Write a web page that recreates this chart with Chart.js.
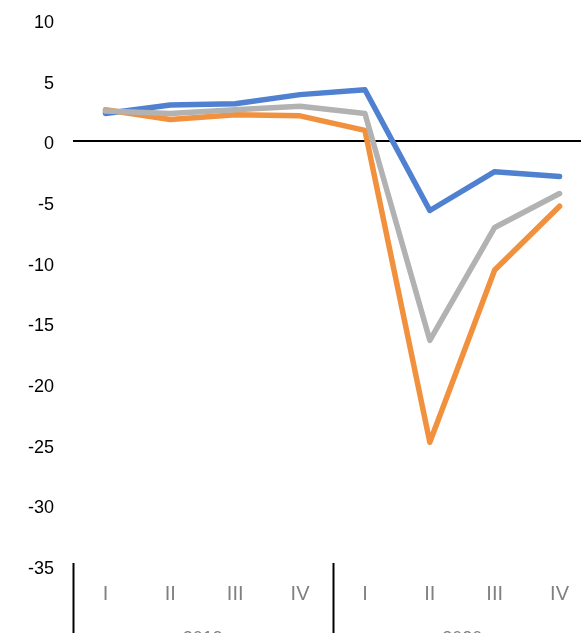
<!DOCTYPE html>
<html lang="en">
<head>
<meta charset="UTF-8">
<title>Quarterly change</title>
<script src="https://cdn.jsdelivr.net/npm/chart.js@4/dist/chart.umd.min.js"></script>
<style>
  html, body { margin: 0; padding: 0; background: #fff; overflow: hidden; }
  #wrap { width: 600px; height: 680px; }
</style>
</head>
<body>
<div id="wrap"><canvas id="chart" width="600" height="680"></canvas></div>
<script>
// ── Data ─────────────────────────────────────────────────────────────────────
const quarters = ['I', 'II', 'III', 'IV', 'I', 'II', 'III', 'IV'];
const years = ['2019', '2020'];
const seriesBlue = [2.3, 3.0, 3.1, 3.85, 4.25, -5.7, -2.5, -2.9];
const seriesOrange = [2.6, 1.8, 2.2, 2.1, 0.9, -24.8, -10.6, -5.35];
const seriesGray = [2.5, 2.3, 2.6, 2.9, 2.3, -16.4, -7.1, -4.3];
const yTicks = [10, 5, 0, -5, -10, -15, -20, -25, -30, -35];

// ── Group separators + year labels under the quarter labels ─────────────────
const yearAxis = {
  id: 'yearAxis',
  afterDraw(chart) {
    const { ctx, chartArea, scales } = chart;
    const x = scales.x;
    const per = quarters.length / years.length;
    const step = x.getPixelForValue(1) - x.getPixelForValue(0);
    const edges = [chartArea.left];
    for (let g = 1; g <= years.length; g++) {
      edges.push(x.getPixelForValue(g * per - 1) + step / 2);
    }
    ctx.save();
    ctx.strokeStyle = '#000';
    ctx.lineWidth = 2;
    edges.forEach((e) => {
      ctx.beginPath();
      ctx.moveTo(Math.round(e) + 0.5, chartArea.bottom - 3);
      ctx.lineTo(Math.round(e) + 0.5, chart.height);
      ctx.stroke();
    });
    ctx.fillStyle = '#808080';
    ctx.font = '18px "Liberation Sans", Arial, sans-serif';
    ctx.textAlign = 'center';
    ctx.textBaseline = 'middle';
    years.forEach((y, k) => ctx.fillText(y, (edges[k] + edges[k + 1]) / 2, chartArea.bottom + 73));
    ctx.restore();
  },
};

const line = (data, color, order) => ({
  data, borderColor: color, backgroundColor: color, borderWidth: 5.5,
  pointRadius: 0, tension: 0, order,
  borderJoinStyle: 'round', borderCapStyle: 'round',
});

new Chart(document.getElementById('chart'), {
  type: 'line',
  data: {
    labels: quarters,
    datasets: [
      line(seriesBlue, '#4F81D0', 3),
      line(seriesOrange, '#F2913D', 2),
      line(seriesGray, '#B2B2B2', 1),
    ],
  },
  options: {
    responsive: false,
    animation: false,
    devicePixelRatio: 1,
    layout: { padding: { top: 20, right: 8, left: 0, bottom: 0 } },
    plugins: { legend: { display: false }, tooltip: { enabled: false } },
    scales: {
      x: {
        type: 'category',
        offset: true,
        grid: { display: false, drawTicks: false },
        border: { display: false },
        ticks: {
          color: '#808080', padding: 16, maxRotation: 0, autoSkip: false,
          font: { family: '"Liberation Sans", Arial, sans-serif', size: 20 },
        },
        afterFit: (s) => { s.height = 114; },
      },
      y: {
        min: -35, max: 10,
        afterBuildTicks: (s) => { s.ticks = yTicks.map((v) => ({ value: v })); },
        grid: {
          drawTicks: false,
          color: (c) => (c.tick && c.tick.value === 0 ? '#000' : 'rgba(0,0,0,0)'),
          lineWidth: 2,
        },
        border: { display: false },
        ticks: {
          color: '#000', padding: 19, labelOffset: 3,
          font: { family: '"Liberation Sans", Arial, sans-serif', size: 18 },
        },
        afterFit: (s) => { s.width = 73; s.paddingTop = 0; s.paddingBottom = 0; },
      },
    },
  },
  plugins: [yearAxis],
});
</script>
</body>
</html>
